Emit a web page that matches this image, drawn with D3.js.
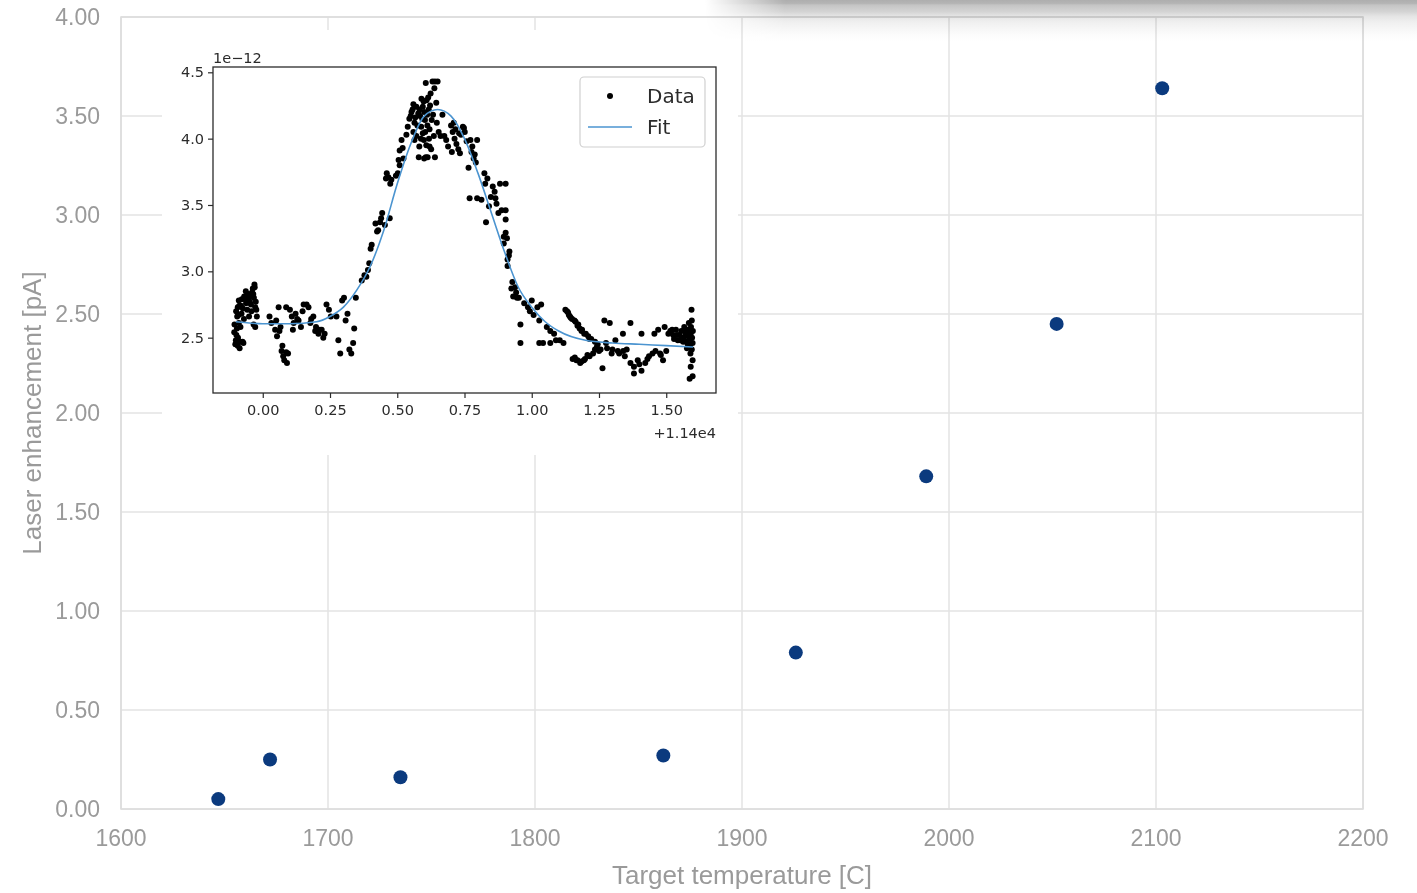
<!DOCTYPE html>
<html>
<head>
<meta charset="utf-8">
<script src="https://cdn.jsdelivr.net/npm/d3@7/dist/d3.min.js"></script>
<style>
body { margin: 0; background: #fff; }
svg { display: block; }
</style>
</head>
<body>
<svg id="chart" width="1417" height="893"></svg>
<script>
// main scatter: target temperature vs laser enhancement
var temperature = [1647, 1672, 1735, 1862, 1926, 1989, 2052, 2103];
var enhancement = [0.05, 0.25, 0.16, 0.27, 0.79, 1.68, 2.45, 3.64];
var xTicks = [1600, 1700, 1800, 1900, 2000, 2100, 2200];
var yTicks = [0, 0.5, 1, 1.5, 2, 2.5, 3, 3.5, 4];

// inset: raw scan (offset from 1.14e4, values in 1e-12)
var insetData = [
  [-0.106,2.54],[-0.10,2.48],[-0.095,2.66],[-0.093,2.73],[-0.089,2.78],[-0.093,2.44],[-0.086,2.42],
  [-0.083,2.58],[-0.079,2.68],[-0.075,2.47],[-0.069,2.81],[-0.062,2.76],[-0.058,2.71],[-0.051,2.81],
  [-0.044,2.75],[-0.037,2.87],[-0.033,2.80],[-0.028,2.73],[-0.030,2.88],[-0.024,2.71],[-0.028,2.58],
  [-0.072,2.46],[-0.089,2.61],[-0.051,2.66],[-0.098,2.52],[-0.081,2.74],[-0.065,2.79],[-0.040,2.84],
  [-0.105,2.60],[-0.102,2.45],[-0.099,2.70],[-0.096,2.57],[-0.092,2.50],[-0.090,2.67],[-0.087,2.74],
  [-0.084,2.47],[-0.078,2.79],[-0.074,2.72],[-0.070,2.64],[-0.063,2.85],[-0.060,2.78],[-0.055,2.83],
  [-0.048,2.77],[-0.042,2.70],[-0.035,2.83],[-0.031,2.90],[-0.026,2.77],[-0.022,2.66],[-0.034,2.60],
  [0.025,2.66],[0.032,2.61],[0.046,2.56],[0.053,2.51],[0.059,2.73],[0.066,2.58],[0.073,2.44],
  [0.080,2.33],[0.087,2.39],[0.094,2.38],[0.087,2.73],[0.101,2.71],[0.108,2.66],[0.115,2.61],
  [0.122,2.68],[0.133,2.63],[0.142,2.58],[0.152,2.75],[0.163,2.75],[0.170,2.73],[0.177,2.61],
  [0.188,2.66],[0.198,2.58],[0.207,2.53],[0.219,2.56],[0.230,2.53],[0.237,2.75],[0.246,2.71],
  [0.050,2.63],[0.062,2.55],[0.070,2.40],[0.076,2.36],[0.090,2.31],[0.112,2.56],[0.128,2.64],
  [0.148,2.70],[0.180,2.64],[0.195,2.55],[0.212,2.56],[0.225,2.50],
  [0.253,2.66],[0.274,2.66],[0.281,2.48],[0.288,2.38],[0.295,2.78],[0.302,2.80],[0.308,2.63],
  [0.315,2.68],[0.322,2.41],[0.329,2.38],[0.336,2.46],[0.340,2.57],[0.346,2.80],
  [0.368,2.93],[0.378,2.97],[0.385,2.96],[0.391,3.01],[0.396,3.06],[0.401,3.17],[0.419,3.36],
  [0.429,3.31],[0.436,3.37],[0.444,3.44],[0.454,3.35],[0.461,3.74],[0.467,3.71],[0.474,3.66],
  [0.405,3.20],[0.425,3.30],[0.440,3.40],[0.458,3.70],[0.478,3.69],[0.495,3.72],[0.505,3.84],
  [0.520,3.93],
  [0.472,3.40],[0.502,3.74],[0.509,3.80],[0.516,3.99],[0.509,3.91],[0.523,3.85],[0.534,4.03],
  [0.539,4.09],[0.550,4.17],[0.557,4.22],[0.564,4.12],[0.571,4.02],[0.578,4.19],[0.582,3.94],
  [0.589,4.09],[0.595,4.24],[0.599,3.99],[0.603,4.14],[0.606,4.42],[0.609,4.29],[0.613,3.86],
  [0.617,4.22],[0.620,4.07],[0.624,4.34],[0.628,4.14],[0.631,4.43],[0.636,4.02],[0.640,4.43],
  [0.645,4.27],[0.647,4.12],[0.650,4.43],[0.654,4.05],[0.640,3.86],[0.606,3.86],[0.585,4.17],
  [0.595,4.04],[0.571,4.24],[0.564,3.99],[0.620,3.94],[0.600,4.20],[0.612,4.10],[0.590,4.30],
  [0.545,4.15],[0.553,4.20],[0.560,4.26],[0.567,4.16],[0.575,4.10],[0.583,4.22],[0.588,4.00],
  [0.593,4.15],[0.598,4.28],[0.604,4.05],[0.608,3.95],[0.611,4.18],[0.615,4.31],[0.618,4.00],
  [0.622,4.25],[0.626,3.92],[0.633,4.18],[0.638,4.38],[0.580,3.86],[0.600,3.85],[0.560,4.05],
  [0.668,4.18],[0.661,4.02],[0.675,4.02],[0.682,3.99],[0.689,3.94],[0.703,3.90],[0.710,4.12],
  [0.716,4.07],[0.730,4.04],[0.737,4.03],[0.744,4.09],[0.751,4.05],[0.765,3.78],[0.772,3.99],
  [0.779,3.94],[0.788,3.88],[0.797,3.99],[0.769,3.55],[0.797,3.55],[0.813,3.54],[0.824,3.74],
  [0.700,4.10],[0.706,4.05],[0.713,4.00],[0.720,3.96],[0.727,3.92],[0.733,3.89],[0.748,4.08],
  [0.758,3.98],[0.776,3.90],[0.784,3.85],[0.792,3.82],
  [0.827,3.66],[0.830,3.37],[0.841,3.49],[0.848,3.56],[0.855,3.64],[0.862,3.60],[0.869,3.51],
  [0.876,3.44],[0.882,3.66],[0.903,3.66],[0.903,3.46],[0.903,3.39],[0.896,3.26],[0.903,3.29],
  [0.896,3.21],[0.917,3.15],[0.910,3.09],[0.910,3.04],[0.924,2.87],[0.931,2.81],[0.938,2.88],
  [0.945,2.80],[0.958,2.60],[0.958,2.46],[0.952,2.80],
  [0.835,3.70],[0.865,3.55],[0.888,3.46],[0.908,3.25],[0.915,3.12],[0.928,2.92],[0.942,2.84],
  [0.972,2.76],[0.986,2.73],[0.993,2.70],[1.000,2.78],[1.007,2.67],[1.021,2.73],[1.028,2.63],
  [1.035,2.75],[1.028,2.46],[1.042,2.46],[1.056,2.58],[1.069,2.55],[1.069,2.46],[1.083,2.53],
  [1.090,2.48],[1.104,2.48],[1.118,2.46],[1.131,2.70],[1.138,2.67],[1.145,2.65],[1.152,2.34],
  [1.159,2.63],[1.166,2.33],[1.173,2.60],[1.180,2.31],[1.187,2.56],[1.194,2.33],[1.201,2.53],
  [1.207,2.37],[1.221,2.49],[1.228,2.38],[1.242,2.43],[1.256,2.41],[1.263,2.27],[1.270,2.63],
  [1.125,2.71],[1.135,2.69],[1.142,2.66],[1.150,2.64],[1.163,2.62],[1.170,2.59],[1.178,2.57],
  [1.185,2.55],[1.195,2.53],[1.210,2.51],[1.215,2.49],[1.235,2.47],[1.245,2.45],
  [1.160,2.35],[1.170,2.33],[1.185,2.32],[1.198,2.34],[1.215,2.36],[1.235,2.41],[1.250,2.40],
  [1.280,2.42],[1.300,2.41],[1.320,2.40],[1.340,2.40],[1.380,2.28],[1.400,2.30],[1.430,2.34],
  [1.460,2.40],[1.480,2.37],[1.500,2.40],
  [1.276,2.46],[1.290,2.61],[1.297,2.38],[1.311,2.48],[1.325,2.38],[1.339,2.53],[1.346,2.36],
  [1.353,2.41],[1.367,2.61],[1.367,2.31],[1.380,2.23],[1.394,2.33],[1.408,2.53],[1.408,2.25],
  [1.422,2.31],[1.436,2.36],[1.449,2.38],[1.456,2.53],[1.470,2.56],[1.477,2.38],[1.488,2.33],
  [1.494,2.58],[1.508,2.53],[1.522,2.56],[1.529,2.49],[1.536,2.56],[1.543,2.48],[1.549,2.52],
  [1.556,2.55],[1.563,2.47],[1.570,2.51],[1.577,2.42],[1.581,2.56],[1.584,2.61],[1.587,2.49],
  [1.591,2.53],[1.594,2.71],[1.595,2.63],[1.598,2.46],[1.595,2.41],[1.598,2.33],[1.591,2.28],
  [1.587,2.19],[1.598,2.21],[1.577,2.56],[1.567,2.58],
  [1.560,2.50],[1.575,2.47],[1.583,2.52],[1.588,2.44],[1.592,2.58],[1.596,2.50],[1.599,2.55],
  [1.590,2.38],[1.580,2.45],[1.571,2.54],[1.553,2.48],[1.540,2.52],[1.526,2.52],[1.515,2.55]
];
var fitX = [-0.1, 0.0, 0.1, 0.2, 0.25, 0.3, 0.35, 0.4, 0.45, 0.5, 0.55, 0.6, 0.65, 0.7, 0.75,
            0.8, 0.85, 0.9, 0.95, 1.0, 1.05, 1.1, 1.2, 1.3, 1.4, 1.5, 1.6];
var fitY = [2.62, 2.605, 2.605, 2.62, 2.66, 2.73, 2.86, 3.04, 3.31, 3.66, 3.96, 4.17, 4.22, 4.17, 4.00,
            3.74, 3.44, 3.14, 2.88, 2.73, 2.62, 2.55, 2.48, 2.46, 2.45, 2.44, 2.43];
var insetXTicks = [0, 0.25, 0.5, 0.75, 1, 1.25, 1.5];
var insetYTicks = [2.5, 3.0, 3.5, 4.0, 4.5];

var svg = d3.select("#chart");
var defs = svg.append("defs");

var x = d3.scaleLinear().domain([1600, 2200]).range([121, 1363]);
var y = d3.scaleLinear().domain([0, 4]).range([809, 17]);

var mainFont = "'Liberation Sans', Arial, sans-serif";
var gridColor = "#e3e3e3";
var labelColor = "#9a9a9a";

// grid
svg.append("g").selectAll("line").data(xTicks).enter().append("line")
    .attr("x1", function(d){ return x(d); }).attr("x2", function(d){ return x(d); })
    .attr("y1", y(0)).attr("y2", y(4))
    .attr("stroke", gridColor).attr("stroke-width", 1.5);
svg.append("g").selectAll("line").data(yTicks).enter().append("line")
    .attr("x1", x(1600)).attr("x2", x(2200))
    .attr("y1", function(d){ return y(d); }).attr("y2", function(d){ return y(d); })
    .attr("stroke", gridColor).attr("stroke-width", 1.5);

// tick labels
svg.append("g").selectAll("text").data(yTicks).enter().append("text")
    .attr("x", 100).attr("y", function(d){ return y(d); }).attr("dy", "0.36em")
    .attr("text-anchor", "end")
    .style("font-family", mainFont).style("font-size", "23px").attr("fill", labelColor)
    .text(d3.format(".2f"));
svg.append("g").selectAll("text").data(xTicks).enter().append("text")
    .attr("x", function(d){ return x(d); }).attr("y", 846)
    .attr("text-anchor", "middle")
    .style("font-family", mainFont).style("font-size", "23px").attr("fill", labelColor)
    .text(function(d){ return d; });

// axis titles
svg.append("text")
    .attr("x", 742).attr("y", 884).attr("text-anchor", "middle")
    .style("font-family", mainFont).style("font-size", "26px").attr("fill", labelColor)
    .text("Target temperature [C]");
svg.append("text")
    .attr("transform", "translate(41,413) rotate(-90)").attr("text-anchor", "middle")
    .style("font-family", mainFont).style("font-size", "26px").attr("fill", labelColor)
    .text("Laser enhancement [pA]");

// scatter points
svg.append("g").selectAll("circle").data(temperature).enter().append("circle")
    .attr("cx", function(d){ return x(d); })
    .attr("cy", function(d, i){ return y(enhancement[i]); })
    .attr("r", 7)
    .attr("fill", "#0b3a7e");

// ---- inset ---------------------------------
var ix = d3.scaleLinear().domain([-0.185, 1.685]).range([213, 716]);
var iy = d3.scaleLinear().domain([2.083, 4.54]).range([393, 67]);
var insetFont = "'DejaVu Sans', sans-serif";
var ink = "#2b2b2b";

var inset = svg.append("g");
inset.append("rect")
    .attr("x", 162).attr("y", 30).attr("width", 576).attr("height", 425)
    .attr("fill", "#fff");

inset.append("g").selectAll("circle").data(insetData).enter().append("circle")
    .attr("cx", function(d){ return ix(d[0]); })
    .attr("cy", function(d){ return iy(d[1]); })
    .attr("r", 3)
    .attr("fill", "#000");

var fitLine = d3.line()
    .x(function(d, i){ return ix(fitX[i]); })
    .y(function(d, i){ return iy(fitY[i]); })
    .curve(d3.curveMonotoneX);
inset.append("path")
    .attr("d", fitLine(fitX))
    .attr("fill", "none").attr("stroke", "#4b94d0").attr("stroke-width", 1.6);

// inset axes
var xAxisInset = d3.axisBottom(ix).tickValues(insetXTicks).tickFormat(d3.format(".2f")).tickSize(5).tickPadding(7);
var yAxisInset = d3.axisLeft(iy).tickValues(insetYTicks).tickFormat(d3.format(".1f")).tickSize(5).tickPadding(4);
var gx = inset.append("g").attr("transform", "translate(0,393)").call(xAxisInset);
var gy = inset.append("g").attr("transform", "translate(213,0)").call(yAxisInset);
[gx, gy].forEach(function(g){
    g.select(".domain").remove();
    g.selectAll("line").attr("stroke", ink).attr("stroke-width", 1.2);
    g.selectAll("text").attr("fill", ink).style("font-family", insetFont).style("font-size", "14.5px");
});

inset.append("rect")
    .attr("x", 213).attr("y", 67).attr("width", 503).attr("height", 326)
    .attr("fill", "none").attr("stroke", ink).attr("stroke-width", 1.3);

inset.append("text").attr("x", 213).attr("y", 63)
    .style("font-family", insetFont).style("font-size", "14.5px").attr("fill", ink)
    .text("1e\u221212");
inset.append("text").attr("x", 716).attr("y", 438).attr("text-anchor", "end")
    .style("font-family", insetFont).style("font-size", "14.5px").attr("fill", ink)
    .text("+1.14e4");

// legend
var legend = inset.append("g");
legend.append("rect")
    .attr("x", 580).attr("y", 77).attr("width", 125).attr("height", 70).attr("rx", 4)
    .attr("fill", "#fff").attr("fill-opacity", 0.8).attr("stroke", "#d0d0d0").attr("stroke-width", 1.2);
legend.append("circle").attr("cx", 610).attr("cy", 96).attr("r", 3).attr("fill", "#000");
legend.append("line").attr("x1", 588).attr("x2", 632).attr("y1", 127).attr("y2", 127)
    .attr("stroke", "#4b94d0").attr("stroke-width", 1.6);
legend.append("text").attr("x", 647).attr("y", 96).attr("dy", "0.36em")
    .style("font-family", insetFont).style("font-size", "20px").attr("fill", ink).text("Data");
legend.append("text").attr("x", 647).attr("y", 127).attr("dy", "0.36em")
    .style("font-family", insetFont).style("font-size", "20px").attr("fill", ink).text("Fit");

// main frame on top of everything
svg.append("rect")
    .attr("x", x(1600)).attr("y", y(4)).attr("width", x(2200) - x(1600)).attr("height", y(0) - y(4))
    .attr("fill", "none").attr("stroke", "#dcdcdc").attr("stroke-width", 1.5);

// grey shadow band along the top right edge
var vg = defs.append("linearGradient").attr("id", "shadeV").attr("x1", 0).attr("y1", 0).attr("x2", 0).attr("y2", 1);
[[0, "#aeaeae"], [0.08, "#b4b4b4"], [0.12, "#c4c4c4"], [0.28, "#d4d4d4"], [0.38, "#e4e4e4"],
 [0.52, "#efefef"], [0.68, "#f6f6f6"], [0.84, "#fcfcfc"], [1, "#ffffff"]].forEach(function(s){
    vg.append("stop").attr("offset", s[0]).attr("stop-color", s[1]);
});
var hg = defs.append("linearGradient").attr("id", "shadeH").attr("x1", 0).attr("y1", 0).attr("x2", 1).attr("y2", 0);
hg.append("stop").attr("offset", 0).attr("stop-color", "#fff").attr("stop-opacity", 0);
hg.append("stop").attr("offset", 1).attr("stop-color", "#fff").attr("stop-opacity", 1);
var mask = defs.append("mask").attr("id", "shadeMask");
mask.append("rect").attr("x", 705).attr("y", 0).attr("width", 80).attr("height", 42).attr("fill", "url(#shadeH)");
mask.append("rect").attr("x", 785).attr("y", 0).attr("width", 640).attr("height", 42).attr("fill", "#fff");
svg.append("rect")
    .attr("x", 705).attr("y", 0).attr("width", 712).attr("height", 42)
    .attr("fill", "url(#shadeV)").attr("mask", "url(#shadeMask)")
    .style("mix-blend-mode", "multiply");
</script>
</body>
</html>
